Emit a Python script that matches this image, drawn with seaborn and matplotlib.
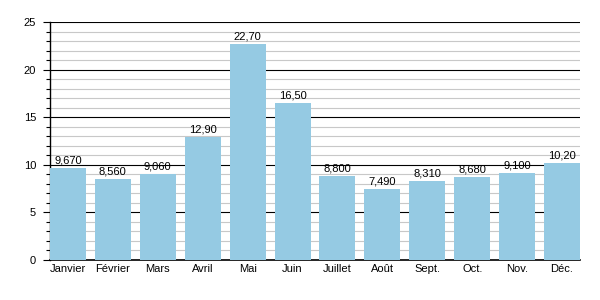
import matplotlib
matplotlib.use("Agg")
import matplotlib.pyplot as plt
import seaborn as sns
import pandas as pd
from matplotlib.ticker import MultipleLocator

months = ["Janvier", "Février", "Mars", "Avril", "Mai", "Juin", "Juillet",
          "Août", "Sept.", "Oct.", "Nov.", "Déc."]
values = [9.67, 8.56, 9.06, 12.9, 22.7, 16.5, 8.8, 7.49, 8.31, 8.68, 9.1, 10.2]
value_labels = ["9,670", "8,560", "9,060", "12,90", "22,70", "16,50", "8,800",
                "7,490", "8,310", "8,680", "9,100", "10,20"]

sns.set_style("white")
plt.rcParams['font.family'] = ['Liberation Sans', 'DejaVu Sans']
plt.rcParams['text.color'] = 'black'
plt.rcParams['xtick.color'] = 'black'
plt.rcParams['ytick.color'] = 'black'

fig = plt.figure(figsize=(6, 3), dpi=100)
ax = fig.add_axes([0.0833, 0.1333, 0.8834, 0.7934])

df = pd.DataFrame({"mois": months, "val": values})
sns.barplot(data=df, x="mois", y="val", color="#95cae3", width=0.8,
            saturation=1, ax=ax, zorder=3, edgecolor="none", linewidth=0)

ax.set_xlim(-0.4, 11.4)
ax.set_ylim(0, 25)
ax.yaxis.set_major_locator(MultipleLocator(5))
ax.yaxis.set_minor_locator(MultipleLocator(1))
ax.grid(which="major", axis="y", color="#000000", linewidth=0.8, zorder=0)
ax.grid(which="minor", axis="y", color="#c8c8c8", linewidth=0.8, zorder=0)
ax.set_axisbelow(True)

for s in ["top", "right"]:
    ax.spines[s].set_visible(False)
ax.spines["left"].set_color("black")
ax.spines["bottom"].set_color("black")
ax.spines["left"].set_linewidth(1.0)
ax.spines["bottom"].set_linewidth(1.2)

ax.tick_params(axis="y", which="major", length=5, width=0.8, color="black",
               labelcolor="black", labelsize=8, direction="out", left=True, pad=5)
ax.tick_params(axis="y", which="minor", length=3, width=0.8, color="black",
               direction="out", left=True)
ax.tick_params(axis="x", length=0, labelsize=8, labelcolor="black", pad=3)
ax.set_xlabel("")
ax.set_ylabel("")

for i, (v, lab) in enumerate(zip(values, value_labels)):
    ax.text(i, v + 0.25, lab, ha="center", va="bottom", fontsize=8,
            color="black", zorder=4)

fig.savefig("out.png", dpi=100)
